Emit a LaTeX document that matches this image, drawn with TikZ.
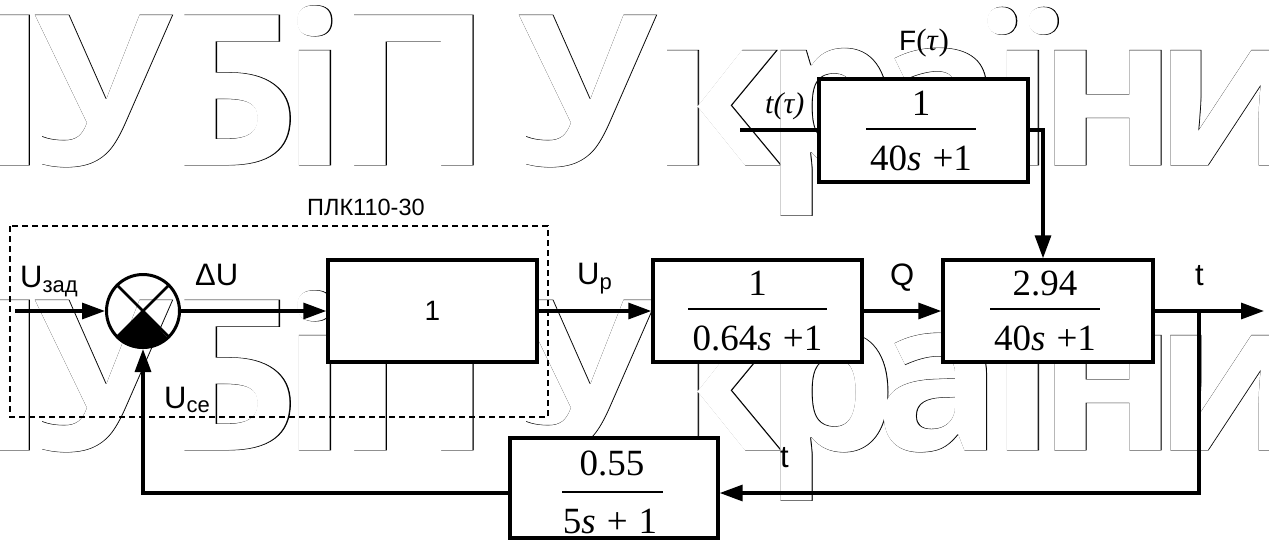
\documentclass[tikz,border=0pt]{standalone}
\usepackage{fontspec}
\setmainfont{Liberation Sans}
\newfontfamily\tnr{Liberation Serif}
\newfontfamily\wmfill{Open Sans}
\newfontfamily\wmline{Open Sans}[BoldFeatures={FakeBold=0.38}]
\usetikzlibrary{arrows.meta}
\tikzset{
  conn/.style={line width=3.2pt},
  arr/.style={conn,-{Triangle[length=23pt,width=16pt]}},
  blk/.style={draw,line width=3.4pt,fill=white,minimum width=209pt,minimum height=102pt,inner sep=0pt},
  lbl/.style={anchor=base west,inner sep=0pt,font=\fontsize{31}{31}\selectfont},
  frac/.style={anchor=base,inner sep=0pt,font=\fontsize{37}{37}\tnr},
  frule/.style={line width=1.3pt},
  wmo/.style={anchor=base,inner sep=0pt,font=\fontsize{210}{210}\wmline\bfseries},
  wmf/.style={anchor=base,inner sep=0pt,text=white,font=\fontsize{210}{210}\wmfill\bfseries},
  plcframe/.style={line width=1.2pt,dash pattern=on 6pt off 4pt},
}
\newcommand\lsub[2]{\raisebox{-#1}{\fontsize{22}{22}\selectfont #2}}
\begin{document}
\begin{tikzpicture}[x=1pt,y=-1pt]
\useasboundingbox (0,0) rectangle (1269,541);

% background lettering: outline pass, then white fill pass
\begin{scope}
  \clip (0,0) rectangle (1269,541);
  \foreach \yy [count=\r] in {165,450}{
    \foreach \c/\xx [count=\i] in {Н/-32,У/104,Б/233,і/315,П/414,У/588,к/716,р/831,а/939,ї/1023,н/1108,и/1230}
      \node[wmo] (wo-\r-\i) at (\xx,\yy) {\c};
  }
  \foreach \yy [count=\r] in {165,450}{
    \foreach \c/\xx [count=\i] in {Н/-32,У/104,Б/233,і/315,П/414,У/588,к/716,р/831,а/939,ї/1023,н/1108,и/1230}
      \node[wmf] (wf-\r-\i) at (\xx,\yy) {\c};
  }
\end{scope}

% controller boundary
\draw[plcframe] (10,226) rectangle (548,417);
\node[lbl,font=\fontsize{23.5}{23.5}\selectfont] (plc) at (307,215) {ПЛК110-30};

% summing junction
\node[draw,circle,line width=3pt,minimum size=73pt,inner sep=0pt] (sum) at (143,311) {};
\draw[line width=2.5pt] (sum.north west) -- (sum.south east) (sum.north east) -- (sum.south west);
\fill (sum.center) -- (sum.south west) arc[start angle=225,end angle=315,radius=36.5pt] -- cycle;

% blocks
\node[blk] (b1) at (432.5,311) {\fontsize{28}{28}\selectfont 1};
\node[blk] (b2) at (757.5,311) {};
\node[blk,minimum width=210pt] (b3) at (1048,311) {};
\node[blk,minimum height=103pt] (bt) at (923.5,130.5) {};
\node[blk,minimum width=208pt,minimum height=100pt] (bf) at (614,488) {};

% transfer functions
\node[frac] (b2n) at (757.5,295) {1};
\node[frac] (b2d) at (757.5,350) {0.64\textit{s}\hspace{0.3em}+1};
\draw[frule] (688,309) -- (827,309);
\node[frac] (b3n) at (1045,295) {2.94};
\node[frac] (b3d) at (1045,350) {40\textit{s}\hspace{0.3em}+1};
\draw[frule] (990,309) -- (1100,309);
\node[frac] (btn) at (921,115) {1};
\node[frac] (btd) at (921,170) {40\textit{s}\hspace{0.3em}+1};
\draw[frule] (866,129) -- (976,129);
\node[frac] (bfn) at (612,475) {0.55};
\node[frac] (bfd) at (610,533) {5\textit{s}\hspace{0.3em}+\hspace{0.3em}1};
\draw[frule] (562,492) -- (663,492);

% signal paths
\coordinate (in) at (15,311);
\coordinate (out) at (1264,311);
\coordinate (br) at (1199,311);
\coordinate (fbr) at (1199,493);
\coordinate (fbl) at (143,493);
\coordinate (tin) at (740,130);
\coordinate (tj) at (1043,130);
\draw[arr] (in) -- (sum);
\draw[arr] (sum) -- (b1);
\draw[arr] (b1) -- (b2);
\draw[arr] (b2) -- (b3);
\draw[arr] (b3) -- (out);
\draw[arr] (br) -- (fbr) -- (bf.east |- fbr);
\draw[arr] (bf.west |- fbl) -- (fbl) -- (sum);
\draw[conn] (tin) -- (bt.west |- tin);
\draw[arr] (bt.east |- tj) -- (tj) -- (tj |- b3.north);

% signal names
\node[lbl] (uzad) at (20,287) {U\lsub{5pt}{зад}};
\node[lbl] (du) at (195,285) {ΔU};
\node[lbl] (up) at (577,284) {U\lsub{5pt}{p}};
\node[lbl] (q) at (890,285) {Q};
\node[lbl] (tout) at (1195,285) {t};
\node[lbl] (uce) at (164,408) {U\lsub{4pt}{ce}};
\node[lbl] (tfb) at (780,467) {t};
\node[lbl,font=\fontsize{28}{28}\selectfont] (ftau) at (899,50) {F{\fontsize{31}{31}\tnr(\textit{τ})}};
\node[lbl,font=\fontsize{30}{30}\tnr\itshape] (ttau) at (765,113) {t(τ)};
\end{tikzpicture}
\end{document}
